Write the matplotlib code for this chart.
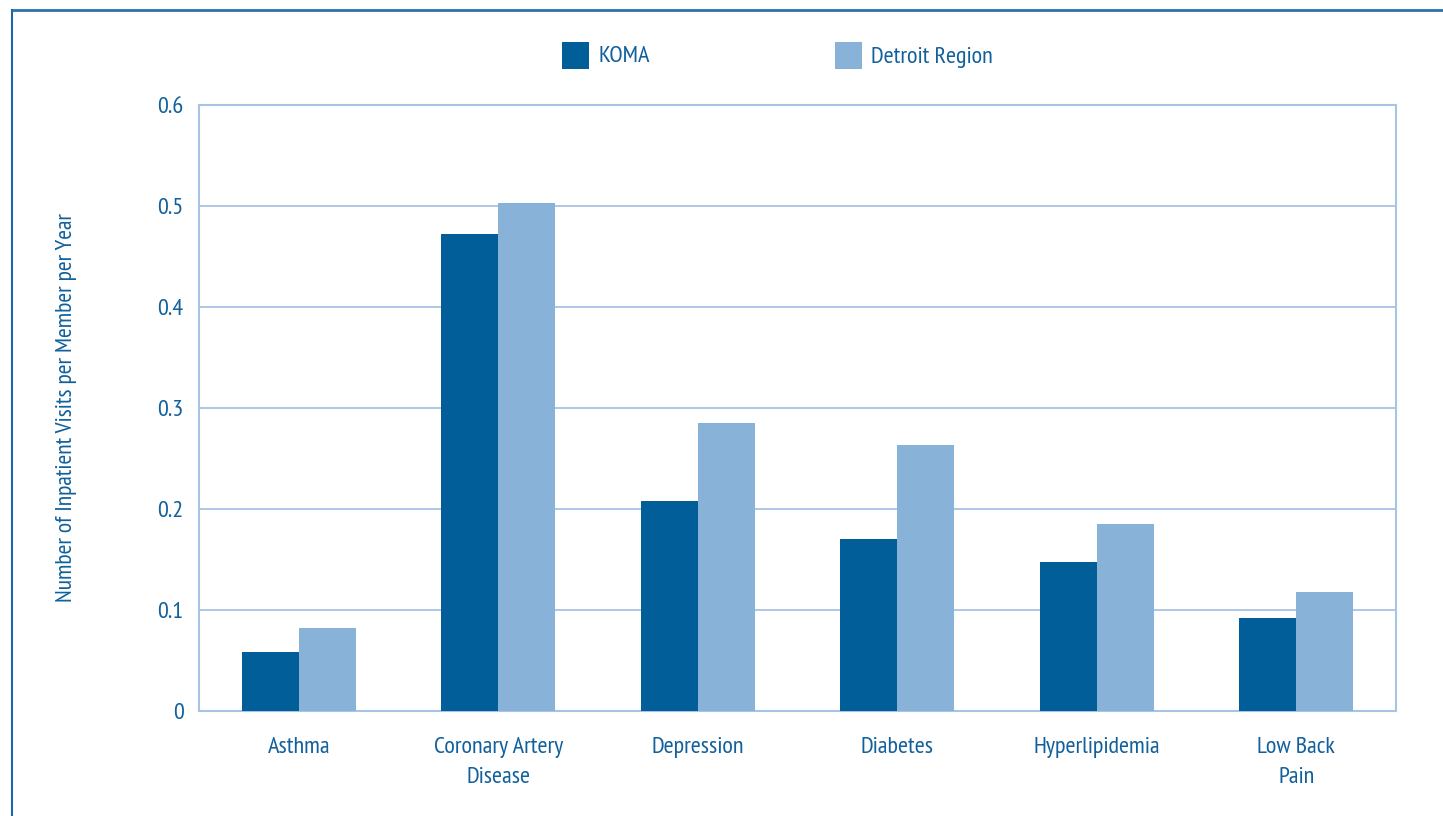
import matplotlib
matplotlib.use("Agg")
import matplotlib.pyplot as plt
from matplotlib.patches import Rectangle
from matplotlib.lines import Line2D
import numpy as np

categories = ["Asthma", "Coronary Artery\nDisease", "Depression", "Diabetes",
              "Hyperlipidemia", "Low Back\nPain"]
koma = [0.058, 0.472, 0.208, 0.170, 0.148, 0.092]
detroit = [0.082, 0.503, 0.285, 0.263, 0.185, 0.118]
yticks = [0, 0.1, 0.2, 0.3, 0.4, 0.5, 0.6]
ytick_labels = ["0", "0.1", "0.2", "0.3", "0.4", "0.5", "0.6"]

dark = "#025e99"
light = "#89b2d9"
text_c = "#11609c"
grid_c = "#a7c4e2"
font = ["PT Sans Narrow", "DejaVu Sans"]

fig = plt.figure(figsize=(14.43, 8.16), dpi=100)
W, H = 1443, 816
ax = fig.add_axes([199 / W, 1 - 711 / H, (1396 - 199) / W, (711 - 105) / H])

x = np.arange(len(categories))
bw = 0.286
ax.bar(x - bw / 2, koma, bw, color=dark, zorder=3, linewidth=0)
ax.bar(x + bw / 2, detroit, bw, color=light, zorder=3, linewidth=0)

ax.set_xlim(-0.5, len(categories) - 0.5)
ax.set_ylim(0, 0.6)
ax.set_yticks(yticks)
ax.set_yticklabels(ytick_labels, fontfamily=font, fontsize=17.5, color=text_c)
ax.set_xticks(x)
ax.set_xticklabels(categories, fontfamily=font, fontsize=17.5, color=text_c,
                   linespacing=1.55)
ax.tick_params(axis="both", length=0)
ax.tick_params(axis="y", pad=11)
ax.tick_params(axis="x", pad=19)
ax.yaxis.grid(True, color=grid_c, linewidth=1.3, zorder=1)
for s in ax.spines.values():
    s.set_color(grid_c)
    s.set_linewidth(1.5)

ax.set_ylabel("Number of Inpatient Visits per Member per Year",
              fontfamily=font, fontsize=17, color=text_c, va="center")
ax.yaxis.set_label_coords((67 - 199) / (1396 - 199), 0.5)

# legend drawn in figure pixels
def px(xp, yp):
    return xp / W, 1 - yp / H

for (x0, label, col) in [(562, "KOMA", dark), (835, "Detroit Region", light)]:
    fx, fy = px(x0, 69)
    fig.patches.append(Rectangle((fx, fy), 27 / W, 27 / H, transform=fig.transFigure,
                                 facecolor=col, edgecolor="none"))
    tx, ty = px(x0 + 36, 57)
    fig.text(tx, ty, label, fontfamily=font, fontsize=17.5, color=text_c,
             va="center", ha="left")

# frame lines at top and left of the figure
fig.add_artist(Line2D([12 / W, 1], [1 - 10 / H, 1 - 10 / H], transform=fig.transFigure,
                      color="#2a72ad", linewidth=2))
fig.add_artist(Line2D([12 / W, 12 / W], [0, 1 - 10 / H], transform=fig.transFigure,
                      color="#1f66a8", linewidth=1.5))

fig.savefig("out.png", dpi=100)
